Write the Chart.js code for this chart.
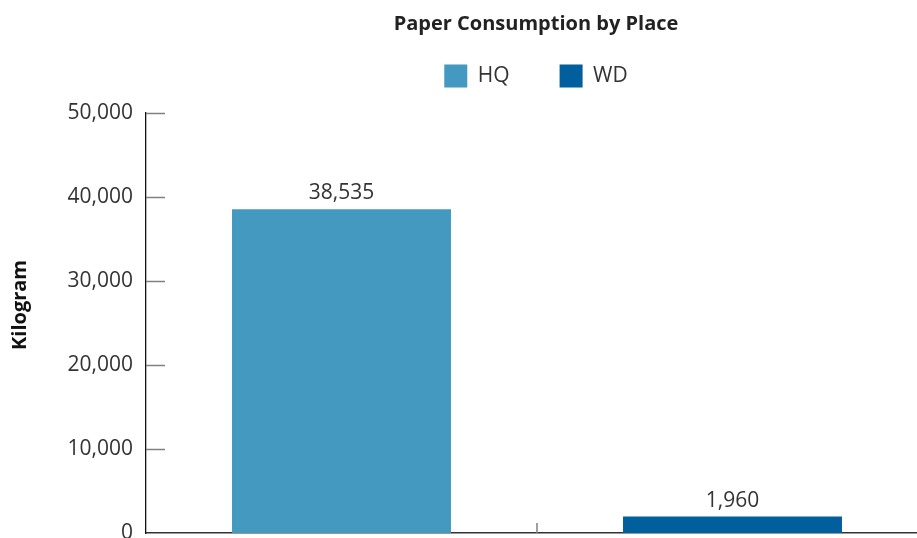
<!DOCTYPE html>
<html>
<head>
<meta charset="utf-8">
<script src="https://cdn.jsdelivr.net/npm/chart.js@4"></script>
<style>
  body { margin: 0; overflow: hidden; background: #fff; }
  #wrap { position: relative; width: 1072px; height: 610px; }
</style>
</head>
<body>
<div id="wrap"><canvas id="paperChart"></canvas></div>
<script>
const places = ['HQ', 'WD'];
const hqValues = [38535, null];
const wdValues = [null, 1960];
const yTicks = [0, 10000, 20000, 30000, 40000, 50000];
const yTitle = 'Kilogram';

const fontFamily = "'Open Sans', 'Noto Sans', sans-serif";
const legendHeight = 98.5;

// numbers above the bars
const barLabels = {
    id: 'barLabels',
    afterDatasetsDraw(chart) {
        const ctx = chart.ctx;
        ctx.save();
        ctx.font = `21px ${fontFamily}`;
        ctx.fillStyle = '#333';
        ctx.textAlign = 'center';
        ctx.textBaseline = 'alphabetic';
        chart.data.datasets.forEach((ds, i) => {
            const meta = chart.getDatasetMeta(i);
            meta.data.forEach((bar, j) => {
                if (ds.data[j] == null) return;
                ctx.fillText(ds.data[j].toLocaleString('en-US'), bar.x, bar.y - 10);
            });
        });
        ctx.restore();
    }
};

// short ticks pointing inside the plot, and the y title centred on the whole figure
const axisMarks = {
    id: 'axisMarks',
    afterDraw(chart) {
        const ctx = chart.ctx;
        const area = chart.chartArea;
        const y = chart.scales.y;
        const x = chart.scales.x;
        ctx.save();
        ctx.strokeStyle = '#808080';
        ctx.lineWidth = 1.5;
        y.ticks.forEach(t => {
            if (t.value === 0) return;
            const py = Math.round(y.getPixelForValue(t.value)) + 0.5;
            ctx.beginPath();
            ctx.moveTo(area.left, py);
            ctx.lineTo(area.left + 19, py);
            ctx.stroke();
        });
        const mid = (x.getPixelForValue(0) + x.getPixelForValue(1)) / 2;
        ctx.beginPath();
        ctx.moveTo(mid, area.bottom);
        ctx.lineTo(mid, area.bottom - 10);
        ctx.stroke();

        ctx.translate(20, chart.height / 2);
        ctx.rotate(-Math.PI / 2);
        ctx.font = `bold 20px ${fontFamily}`;
        ctx.fillStyle = '#111';
        ctx.textAlign = 'center';
        ctx.textBaseline = 'middle';
        ctx.fillText(yTitle, 0, 0);
        ctx.restore();
    }
};

// keep a fixed gap between the legend and the plot
const legendGap = {
    id: 'legendGap',
    beforeLayout(chart) {
        const legend = chart.legend;
        if (!legend || legend._gapPatched) return;
        const fit = legend.fit;
        legend.fit = function () {
            fit.call(this);
            this.height = legendHeight;
        };
        legend._gapPatched = true;
    }
};

new Chart(document.getElementById('paperChart'), {
    type: 'bar',
    data: {
        labels: places,
        datasets: [
            { label: 'HQ', data: hqValues, backgroundColor: '#4499c1' },
            { label: 'WD', data: wdValues, backgroundColor: '#005f9c' }
        ]
    },
    options: {
        responsive: true,
        maintainAspectRatio: false,
        animation: false,
        skipNull: true,
        categoryPercentage: 0.56,
        barPercentage: 1,
        layout: { padding: { left: 0, right: 0, bottom: 77, top: 0 } },
        plugins: {
            title: {
                display: true,
                text: 'Paper Consumption by Place',
                color: '#222',
                font: { family: fontFamily, size: 20, weight: 'bold' },
                padding: { top: 12, bottom: -21.5 }
            },
            legend: {
                labels: {
                    color: '#333',
                    font: { family: fontFamily, size: 21 },
                    boxWidth: 23,
                    boxHeight: 23,
                    padding: 50
                }
            },
            tooltip: { enabled: false }
        },
        scales: {
            x: {
                grid: { display: false, drawTicks: false },
                border: { color: '#333', width: 1.5 },
                ticks: { display: false }
            },
            y: {
                min: 0,
                max: 50000,
                afterBuildTicks(scale) {
                    scale.ticks = yTicks.map(v => ({ value: v }));
                },
                afterFit(scale) { scale.width = 146; },
                grid: { display: false, drawTicks: false },
                border: { color: '#111', width: 1.3 },
                ticks: {
                    color: '#333',
                    padding: 13,
                    font: { family: fontFamily, size: 21 },
                    callback: v => v.toLocaleString('en-US')
                }
            },
            // empty right-hand axis, keeps the plot as wide as the original
            spacer: {
                position: 'right',
                grid: { display: false, drawTicks: false },
                border: { display: false },
                ticks: { display: false },
                afterFit(scale) { scale.width = 144; }
            }
        }
    },
    plugins: [barLabels, axisMarks, legendGap]
});
</script>
</body>
</html>
